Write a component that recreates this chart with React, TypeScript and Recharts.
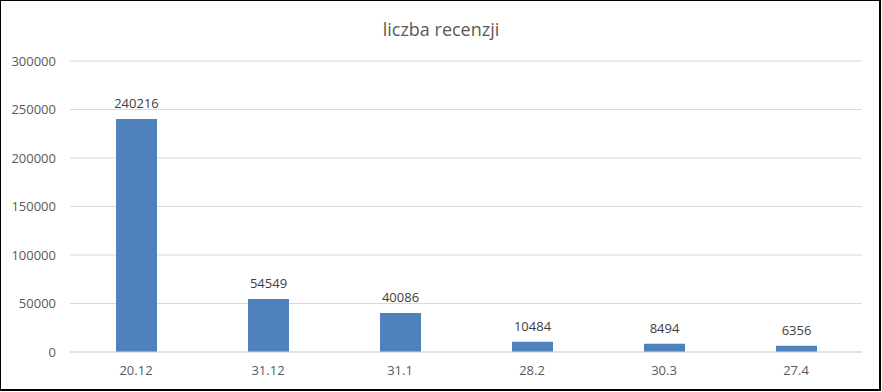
import React from "react";
import { BarChart, Bar, XAxis, YAxis, CartesianGrid, LabelList } from "recharts";

const categories = ["20.12", "31.12", "31.1", "28.2", "30.3", "27.4"];
const reviews = [240216, 54549, 40086, 10484, 8494, 6356];
const yTicks = [0, 50000, 100000, 150000, 200000, 250000, 300000];
const title = "liczba recenzji";

const data = categories.map((c, i) => ({ name: c, value: reviews[i] }));

const font = "'Open Sans', sans-serif";

export default function App() {
  return (
    <div style={{ position: "absolute", left: 0, top: 0, width: 882, height: 392, background: "#fff", fontFamily: font }}>
      <BarChart
        width={882}
        height={392}
        data={data}
        margin={{ top: 61, right: 20, bottom: 10, left: 0 }}
      >
        <CartesianGrid vertical={false} stroke="#d9d9d9" />
        <XAxis
          dataKey="name"
          height={30}
          tickLine={false}
          tickSize={0}
          tickMargin={14}
          axisLine={{ stroke: "#d9d9d9" }}
          tick={{ fill: "#595959", fontSize: 13, fontFamily: font }}
        />
        <YAxis
          width={70}
          domain={[0, 300000]}
          ticks={yTicks}
          axisLine={false}
          tickLine={false}
          tickSize={0}
          tickMargin={14}
          tick={{ fill: "#595959", fontSize: 13, fontFamily: font }}
        />
        <Bar dataKey="value" fill="#4f81bd" barSize={41} isAnimationActive={false}>
          <LabelList dataKey="value" position="top" offset={11} fill="#404040" fontSize={13} fontFamily={font} />
        </Bar>
      </BarChart>
      <div
        style={{
          position: "absolute",
          left: 0,
          top: 17,
          width: 882,
          textAlign: "center",
          fontSize: 18,
          color: "#595959",
          fontFamily: font,
          lineHeight: "24px",
        }}
      >
        {title}
      </div>
      <div
        style={{
          position: "absolute",
          left: 0,
          top: 0,
          width: 878,
          height: 388,
          border: "1px solid #000",
          borderRightWidth: 2,
          borderBottomWidth: 2,
          pointerEvents: "none",
        }}
      />
    </div>
  );
}
